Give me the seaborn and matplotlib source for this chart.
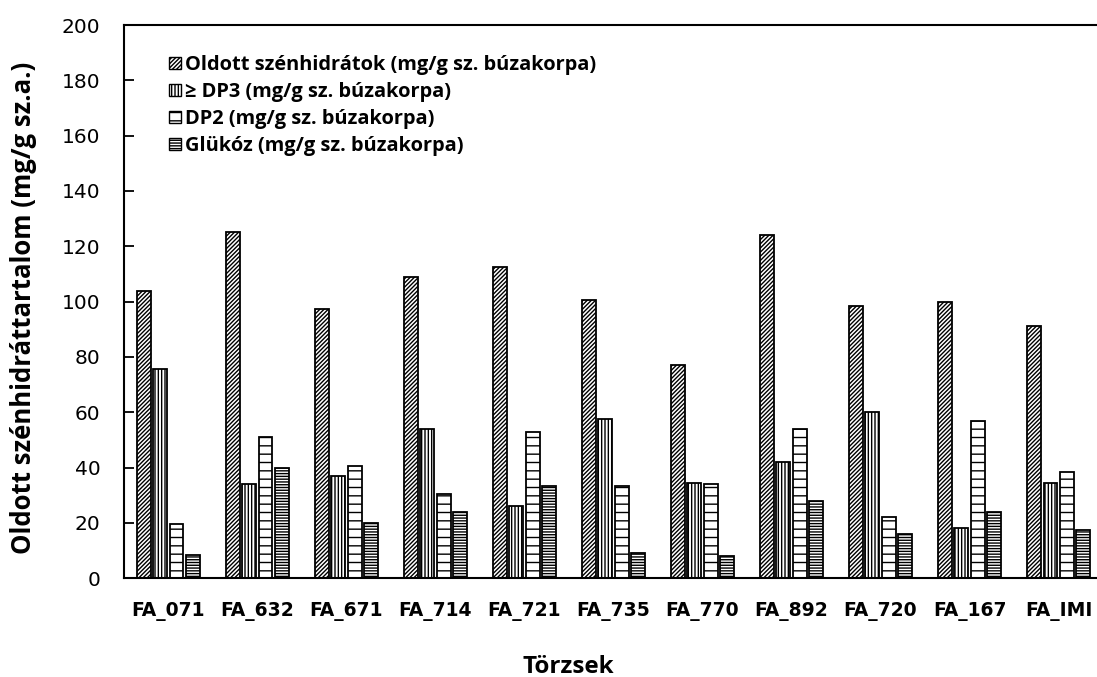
import matplotlib
matplotlib.use("Agg")
import matplotlib.pyplot as plt
import seaborn as sns
import pandas as pd
from matplotlib.patches import Patch

categories = ["FA_071", "FA_632", "FA_671", "FA_714", "FA_721", "FA_735",
              "FA_770", "FA_892", "FA_720", "FA_167", "FA_IMI"]
series_names = ["Oldott szénhidrátok (mg/g sz. búzakorpa)",
                "≥ DP3 (mg/g sz. búzakorpa)",
                "DP2 (mg/g sz. búzakorpa)",
                "Glükóz (mg/g sz. búzakorpa)"]
oldott = [104, 125, 97.5, 109, 112.5, 100.5, 77, 124, 98.5, 100, 91]
dp3 = [75.5, 34, 37, 54, 26, 57.5, 34.5, 42, 60, 18, 34.5]
dp2 = [19.5, 51, 40.5, 30.5, 53, 33.5, 34, 54, 22, 57, 38.5]
glukoz = [8.5, 40, 20, 24, 33.5, 9, 8, 28, 16, 24, 17.5]
yticks = [0, 20, 40, 60, 80, 100, 120, 140, 160, 180, 200]

rows = []
for name, vals in zip(series_names, [oldott, dp3, dp2, glukoz]):
    for c, v in zip(categories, vals):
        rows.append({"Törzs": c, "Sorozat": name, "Érték": v})
df = pd.DataFrame(rows)

sns.set_theme(style="white")
plt.rcParams["font.family"] = ["DejaVu Sans"]
plt.rcParams["hatch.linewidth"] = 1.0
plt.rcParams["text.color"] = "black"
plt.rcParams["axes.labelcolor"] = "black"
plt.rcParams["xtick.color"] = "black"
plt.rcParams["ytick.color"] = "black"

fig = plt.figure(figsize=(10.97, 6.77), dpi=100)
ax = fig.add_axes([0.113, 0.146, 0.8925, 0.817])

sns.barplot(data=df, x="Törzs", y="Érték", hue="Sorozat",
            palette=["white"] * 4, saturation=1, edgecolor="black",
            linewidth=1.3, width=0.73, gap=0.15, legend=False, ax=ax)

hatches = ["////////", "|||||", "--", "------"]
for cont, h in zip(ax.containers, hatches):
    for p in cont.patches:
        p.set_hatch(h)

ax.set_xlim(-0.5, 10.5)
ax.set_ylim(0, 200)
ax.set_yticks(yticks)
ax.set_yticklabels([str(t) for t in yticks], fontsize=14.5, fontfamily="DejaVu Sans")
ax.set_xticks(range(len(categories)))
ax.set_xticklabels(categories, fontsize=13.5, fontweight="bold", fontfamily="DejaVu Sans")
ax.tick_params(axis="y", direction="in", length=7, width=1.3, left=True, pad=17, colors="black")
ax.tick_params(axis="x", length=0, pad=17, colors="black")

for side in ["left", "top", "bottom"]:
    ax.spines[side].set_color("black")
    ax.spines[side].set_linewidth(1.5)
ax.spines["right"].set_visible(False)

ax.set_xlabel("Törzsek", fontsize=17.5, fontweight="bold", fontfamily="Open Sans", color="black")
ax.xaxis.set_label_coords(0.4535, -0.139)
ax.set_ylabel("Oldott szénhidráttartalom (mg/g sz.a.)", fontsize=18.5, fontweight="bold",
              fontfamily="Open Sans", color="black")
ax.yaxis.set_label_coords(-0.089, 0.488)

handles = [Patch(facecolor="white", edgecolor="black", hatch=h, linewidth=1.0) for h in hatches]
leg = ax.legend(handles, series_names, loc="upper left", bbox_to_anchor=(0.046, 0.946),
                frameon=False, handlelength=0.6, handleheight=0.6, handletextpad=0.2,
                labelspacing=0.35, borderaxespad=0, borderpad=0, labelcolor="black",
                prop={"family": "Open Sans", "weight": "bold", "size": 14.4})

fig.savefig("out.png", dpi=100)
